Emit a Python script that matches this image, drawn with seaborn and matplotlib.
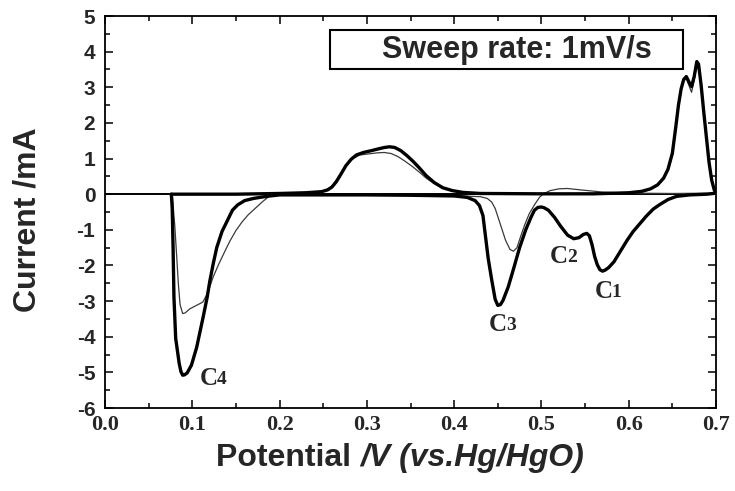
import matplotlib
matplotlib.use("Agg")
import matplotlib.pyplot as plt
from matplotlib.patches import Rectangle
import seaborn as sns
import pandas as pd

# ---- cyclic voltammogram, first cycle (bold) ----
# cathodic sweep, 0.70 V -> 0.076 V
cyc1_cath_E = [0.700, 0.690, 0.670, 0.655, 0.645, 0.635, 0.628, 0.620, 0.612, 0.605,
               0.598, 0.590, 0.583, 0.577, 0.573, 0.570, 0.567, 0.564, 0.561, 0.558,
               0.555, 0.552, 0.548, 0.543, 0.537, 0.530, 0.522, 0.515, 0.508, 0.503,
               0.500, 0.496, 0.492, 0.488, 0.482, 0.475, 0.468, 0.462, 0.456, 0.453,
               0.450, 0.447, 0.443, 0.439, 0.436, 0.433, 0.429, 0.424, 0.415, 0.400,
               0.350, 0.300, 0.250, 0.200, 0.189, 0.180, 0.170, 0.160, 0.152, 0.146,
               0.140, 0.134, 0.128, 0.124, 0.120, 0.117, 0.112, 0.105, 0.099, 0.094,
               0.091, 0.089, 0.087, 0.085, 0.083, 0.081, 0.079, 0.078, 0.077, 0.076]
cyc1_cath_I = [0.03, 0.00, -0.02, -0.06, -0.15, -0.30, -0.42, -0.62, -0.85, -1.05,
               -1.30, -1.62, -1.90, -2.06, -2.13, -2.16, -2.12, -1.98, -1.75, -1.42,
               -1.17, -1.10, -1.13, -1.22, -1.25, -1.15, -0.90, -0.65, -0.45, -0.38,
               -0.36, -0.37, -0.45, -0.65, -1.00, -1.50, -2.10, -2.60, -2.98, -3.10,
               -3.12, -2.95, -2.40, -1.80, -1.20, -0.60, -0.32, -0.18, -0.09, -0.05,
               -0.03, -0.02, -0.02, -0.02, -0.05, -0.08, -0.12, -0.18, -0.30, -0.45,
               -0.75, -1.05, -1.50, -1.95, -2.45, -2.90, -3.50, -4.30, -4.80, -5.02,
               -5.07, -5.08, -4.98, -4.75, -4.40, -4.05, -2.90, -1.50, -0.40, 0.00]
# anodic sweep, 0.076 V -> 0.70 V
cyc1_anod_E = [0.076, 0.100, 0.150, 0.200, 0.230, 0.248, 0.255, 0.260, 0.265, 0.270,
               0.276, 0.282, 0.288, 0.296, 0.305, 0.313, 0.320, 0.326, 0.332, 0.339,
               0.346, 0.353, 0.360, 0.368, 0.377, 0.387, 0.398, 0.410, 0.430, 0.500,
               0.560, 0.600, 0.615, 0.625, 0.633, 0.640, 0.645, 0.650, 0.654, 0.657,
               0.660, 0.663, 0.666, 0.669, 0.672, 0.675, 0.678, 0.680, 0.683, 0.686,
               0.689, 0.692, 0.695, 0.698, 0.700]
cyc1_anod_I = [0.00, 0.00, 0.00, 0.02, 0.04, 0.07, 0.12, 0.20, 0.35, 0.55,
               0.80, 0.98, 1.10, 1.17, 1.22, 1.27, 1.31, 1.33, 1.31, 1.22,
               1.08, 0.92, 0.74, 0.52, 0.33, 0.18, 0.10, 0.05, 0.02, 0.01,
               0.01, 0.04, 0.08, 0.15, 0.26, 0.45, 0.70, 1.15, 1.90, 2.50,
               2.95, 3.22, 3.30, 3.15, 3.02, 3.30, 3.72, 3.65, 3.05, 2.30,
               1.60, 0.90, 0.40, 0.12, 0.03]

# ---- second cycle (thin) ----
cyc2_cath_E = [0.700, 0.650, 0.600, 0.570, 0.545, 0.530, 0.520, 0.510, 0.503, 0.498,
               0.492, 0.486, 0.481, 0.476, 0.472, 0.468, 0.464, 0.459, 0.455, 0.451,
               0.447, 0.443, 0.438, 0.430, 0.400, 0.300, 0.200, 0.188, 0.180, 0.172,
               0.164, 0.157, 0.150, 0.143, 0.137, 0.130, 0.124, 0.120, 0.116, 0.112,
               0.104, 0.097, 0.092, 0.089, 0.086, 0.084, 0.082, 0.080, 0.078, 0.077]
cyc2_cath_I = [0.03, 0.02, 0.03, 0.06, 0.12, 0.16, 0.15, 0.10, 0.02, -0.08,
               -0.30, -0.55, -0.85, -1.20, -1.50, -1.60, -1.55, -1.30, -1.00, -0.70,
               -0.40, -0.22, -0.12, -0.07, -0.04, -0.02, -0.02, -0.06, -0.22, -0.40,
               -0.58, -0.78, -1.02, -1.32, -1.62, -1.98, -2.32, -2.60, -2.85, -3.03,
               -3.13, -3.22, -3.33, -3.35, -3.10, -2.50, -1.70, -0.90, -0.30, 0.00]
cyc2_anod_E = [0.077, 0.150, 0.200, 0.240, 0.252, 0.260, 0.268, 0.276, 0.284, 0.292,
               0.302, 0.312, 0.320, 0.328, 0.336, 0.344, 0.352, 0.360, 0.368, 0.377,
               0.387, 0.398, 0.410, 0.430, 0.500, 0.600, 0.615, 0.625, 0.633, 0.640,
               0.645, 0.650, 0.654, 0.657, 0.660, 0.663, 0.666, 0.669, 0.672, 0.675,
               0.678, 0.680, 0.683, 0.686, 0.689, 0.692, 0.695, 0.698, 0.700]
cyc2_anod_I = [0.00, 0.00, 0.02, 0.04, 0.10, 0.22, 0.50, 0.80, 1.00, 1.10,
               1.13, 1.16, 1.17, 1.14, 1.05, 0.92, 0.78, 0.62, 0.45, 0.30,
               0.17, 0.09, 0.04, 0.02, 0.01, 0.03, 0.07, 0.14, 0.25, 0.44,
               0.68, 1.10, 1.85, 2.45, 2.90, 3.18, 3.25, 3.05, 2.86, 3.20,
               3.65, 3.60, 3.00, 2.25, 1.55, 0.85, 0.35, 0.10, 0.03]

# cathodic peak labels: (name, subscript, E position, I position)
peak_names = ["C", "C", "C", "C"]
peak_subs = ["1", "2", "3", "4"]
peak_label_E = [0.561, 0.510, 0.440, 0.109]
peak_label_I = [-2.73, -1.75, -3.66, -5.17]

x_ticks = [0.0, 0.1, 0.2, 0.3, 0.4, 0.5, 0.6, 0.7]
y_ticks = [5, 4, 3, 2, 1, 0, -1, -2, -3, -4, -5, -6]

sns.set_theme(style="ticks")
plt.rcParams["font.family"] = ["Liberation Sans", "DejaVu Sans"]

fig = plt.figure(figsize=(7.35, 4.91), dpi=100)
ax = fig.add_axes([105 / 735, 1 - 408 / 491, 611 / 735, 392 / 491])

ax.axhline(0, color="black", lw=1.4, zorder=1)

thin = dict(color="#3a3a3a", lw=0.9, sort=False, estimator=None, ax=ax, zorder=2)
bold = dict(color="black", lw=2.4, sort=False, estimator=None, ax=ax, zorder=3)

sns.lineplot(data=pd.DataFrame({"E": cyc2_cath_E, "I": cyc2_cath_I}), x="E", y="I", **thin)
sns.lineplot(data=pd.DataFrame({"E": cyc2_anod_E, "I": cyc2_anod_I}), x="E", y="I", **thin)
sns.lineplot(data=pd.DataFrame({"E": cyc1_cath_E, "I": cyc1_cath_I}), x="E", y="I", **bold)
sns.lineplot(data=pd.DataFrame({"E": cyc1_anod_E, "I": cyc1_anod_I}), x="E", y="I", **bold)

ax.set_xlim(0.0, 0.7)
ax.set_ylim(-6, 5)
ax.set_xticks(x_ticks)
ax.set_xticks([0.05, 0.15, 0.25, 0.35, 0.45, 0.55, 0.65], minor=True)
ax.set_yticks(y_ticks)
ax.set_yticks([v + 0.5 for v in range(-6, 5)], minor=True)
ax.set_xticklabels([f"{v:.1f}" for v in x_ticks],
                   fontdict=dict(family="Liberation Serif", weight="bold", size=16))
ax.set_yticklabels([str(v) for v in y_ticks],
                   fontdict=dict(family="Liberation Sans", weight="bold", size=15))
ax.tick_params(which="both", direction="in", top=True, right=True, color="black", width=1.1)
ax.tick_params(which="major", length=6)
ax.tick_params(which="minor", length=3.5)
ax.tick_params(axis="x", pad=5)
ax.tick_params(axis="y", pad=7)
for s in ax.spines.values():
    s.set_linewidth(1.3)
    s.set_color("black")
ax.set_xlabel("")
ax.set_ylabel("")

# axis titles
fig.text(27 / 735, 1 - 220 / 491, "Current /mA", rotation=90, ha="center", va="center",
         fontsize=23, fontweight="bold")
fig.text(360 / 735, 1 - 458 / 491, "Potential ", ha="right", va="center",
         fontsize=23, fontweight="bold")
fig.text(360 / 735, 1 - 458 / 491, "/V (vs.Hg/HgO)", ha="left", va="center",
         fontsize=23, fontweight="bold", style="italic")

# sweep-rate box
ax.add_patch(Rectangle((0.258, 3.51), 0.404, 1.10, fill=False, lw=1.5,
                       edgecolor="black", zorder=4))
ax.text(0.472, 4.04, "Sweep rate: 1mV/s", ha="center", va="center",
        fontsize=22, fontweight="bold", zorder=5)

# peak labels
for name, sub, xe, yi in zip(peak_names, peak_subs, peak_label_E, peak_label_I):
    ax.text(xe, yi, name, ha="left", va="center", family="Liberation Serif",
            fontweight="bold", fontsize=18)
    ax.annotate(sub, xy=(xe, yi), xytext=(12, -0.5), textcoords="offset points",
                ha="left", va="center", family="Liberation Serif",
                fontweight="bold", fontsize=14)

fig.savefig("out.png", dpi=100)
